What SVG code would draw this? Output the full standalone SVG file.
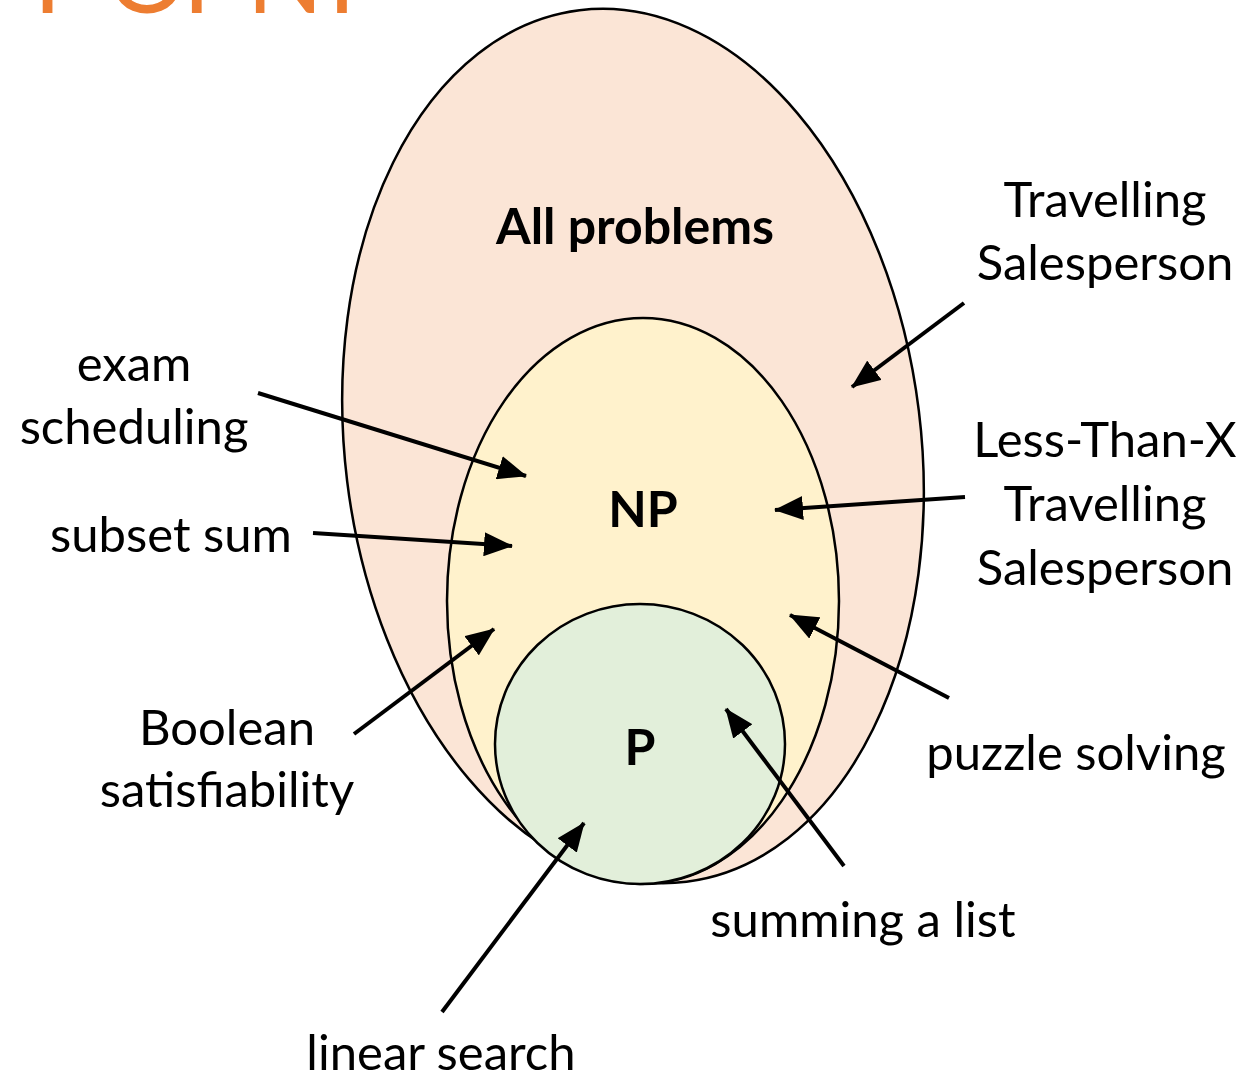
<svg xmlns="http://www.w3.org/2000/svg" width="1255" height="1076" viewBox="0 0 1255 1076">
<style>
.lbl{font-family:Lato,"Liberation Sans",sans-serif;font-size:49px;fill:#000;text-anchor:middle}
.bold{font-family:Lato,"Liberation Sans",sans-serif;font-size:50px;font-weight:bold;fill:#000;text-anchor:middle}
.title{font-family:Lato,"Liberation Sans",sans-serif;font-size:100px;fill:#ED7D31;text-anchor:middle}
.set{stroke:#000;stroke-width:2.5}
.arr{stroke:#000;stroke-width:4;fill:none;marker-end:url(#ah)}
</style>
<defs>
<marker id="ah" markerUnits="userSpaceOnUse" viewBox="0 0 29 24" markerWidth="29" markerHeight="24" refX="28" refY="12" orient="auto">
<path d="M0,0 L29,12 L0,24 Z" fill="#000"/>
</marker>
</defs>
<rect width="1255" height="1076" fill="#fff"/>
<text class="title" y="13"><tspan x="47.5">T</tspan><tspan x="147">O</tspan><tspan x="211">F</tspan><tspan x="285">N</tspan><tspan x="358">P</tspan></text>
<g id="all-problems">
<ellipse class="set" cx="633" cy="446" rx="288" ry="439" transform="rotate(-7 633 446)" fill="#FBE5D6"/>
<text class="bold" x="635" y="244">All problems</text>
</g>
<g id="np">
<ellipse class="set" cx="643" cy="601" rx="196" ry="283" fill="#FFF2CC"/>
<text class="bold" x="643" y="527">NP</text>
</g>
<g id="p">
<ellipse class="set" cx="640" cy="744" rx="145" ry="140" fill="#E2EFDA"/>
<text class="bold" x="640" y="765">P</text>
</g>
<g id="connectors">
<line class="arr" x1="964" y1="303" x2="852" y2="387"/>
<line class="arr" x1="258" y1="393" x2="526" y2="476"/>
<line class="arr" x1="313" y1="533" x2="512" y2="546"/>
<line class="arr" x1="965" y1="497" x2="775" y2="510"/>
<line class="arr" x1="354" y1="734" x2="494" y2="629"/>
<line class="arr" x1="949" y1="698" x2="790" y2="615"/>
<line class="arr" x1="442" y1="1012" x2="584" y2="823"/>
<line class="arr" x1="844" y1="866" x2="726" y2="709"/>
</g>
<g id="label-tsp">
<text class="lbl" x="1105" y="217">Travelling</text>
<text class="lbl" x="1105" y="280">Salesperson</text>
</g>
<g id="label-ltx">
<text class="lbl" x="1105" y="457">Less-Than-X</text>
<text class="lbl" x="1105" y="521">Travelling</text>
<text class="lbl" x="1105" y="585">Salesperson</text>
</g>
<g id="label-exam">
<text class="lbl" x="134" y="381">exam</text>
<text class="lbl" x="134" y="444">scheduling</text>
</g>
<g id="label-subset">
<text class="lbl" x="171" y="552">subset sum</text>
</g>
<g id="label-boolean">
<text class="lbl" x="227" y="745">Boolean</text>
<text class="lbl" x="227" y="807">satisfiability</text>
</g>
<g id="label-puzzle">
<text class="lbl" x="1076" y="770">puzzle solving</text>
</g>
<g id="label-summing">
<text class="lbl" x="863" y="937">summing a list</text>
</g>
<g id="label-linear">
<text class="lbl" x="441" y="1070">linear search</text>
</g>
</svg>
